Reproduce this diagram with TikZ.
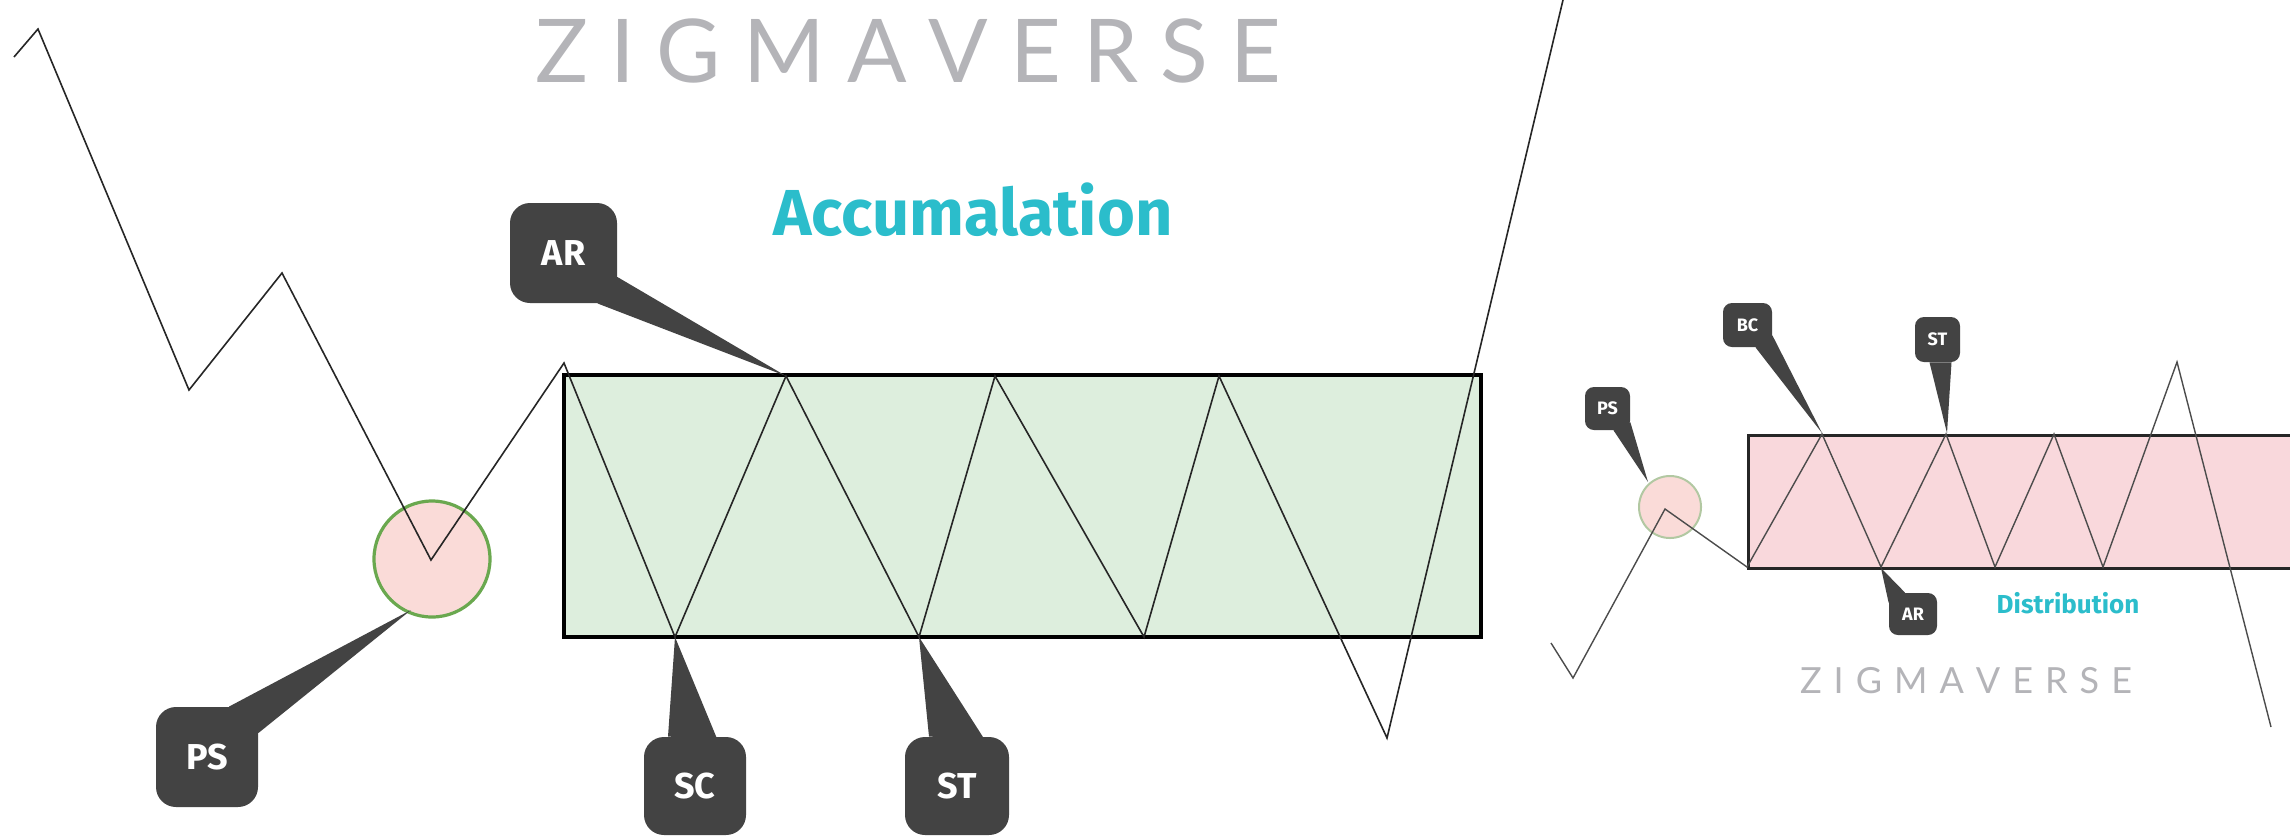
\documentclass[tikz,border=0pt]{standalone}
\usepackage{fontspec}
\setmainfont{Fira Sans}
\newfontfamily\zigfont{Lato}
\definecolor{callgray}{HTML}{434343}
\definecolor{boxgreen}{HTML}{DDEEDD}
\definecolor{boxpink}{HTML}{F9D8DC}
\definecolor{circpink}{HTML}{FADBD8}
\definecolor{circgreen}{HTML}{6AA84F}
\definecolor{circgreenlt}{HTML}{B2C8A2}
\definecolor{teal}{HTML}{2BBDCB}
\definecolor{ziggray}{HTML}{B4B4B8}
\newcommand\zigword[1]{Z\kern#1 I\kern#1 G\kern#1 M\kern#1 A\kern#1 V\kern#1 E\kern#1 R\kern#1 S\kern#1 E}
\tikzset{
  bigcall/.style={fill=callgray, rounded corners=10pt, text=white, inner sep=0pt,
    font=\bfseries\fontsize{18}{20}\selectfont},
  smallcall/.style={fill=callgray, rounded corners=4.5pt, text=white, inner sep=0pt,
    font=\bfseries\fontsize{9}{10}\selectfont},
  pointer/.style={fill=callgray},
  price/.style={draw=black!85, line width=0.8pt, line join=miter},
  pricesmall/.style={draw=black!70, line width=0.7pt},
}
\begin{document}
\begin{tikzpicture}[x=0.5pt,y=-0.5pt]
\clip (0,0) rectangle (2290,837);
\fill[white] (0,0) rectangle (2290,837);

% ---------- Accumulation (left) ----------
\node[draw=black, line width=2pt, fill=boxgreen, minimum width=458.5pt, minimum height=131pt, inner sep=0pt] (accbox) at (1022.5,506) {};
\node[circle, draw=circgreen, line width=1.6pt, fill=circpink, minimum size=58pt, inner sep=0pt] (pscirc) at (432,559) {};

\draw[price] (14,57) -- (38,29) -- (189,390) -- (282,273) -- (431,560) -- (564,363)
  -- (675,637) -- (786,376) -- (919,637) -- (995,376) -- (1144,637) -- (1219,376)
  -- (1387,738) -- (1563,0);

\coordinate (artip) at (786,376);
\coordinate (sctip) at (675,637);
\coordinate (sttip) at (919,637);
\coordinate (pstip) at (411,610);

\node[bigcall, minimum width=53.5pt, minimum height=50pt] (ar) at (563.5,253) {AR};
\node[bigcall, minimum width=51pt, minimum height=50pt] (ps) at (207,757) {PS};
\node[bigcall, minimum width=51pt, minimum height=49pt] (sc) at (695,786) {SC};
\node[bigcall, minimum width=52pt, minimum height=49pt] (st) at (957,786) {ST};

\fill[pointer] ([xshift=-10pt]ar.south east) -- (artip) -- ([yshift=-12pt]ar.east) -- cycle;
\fill[pointer] ([xshift=11pt]ps.north) -- (pstip) -- ([yshift=12pt]ps.east) -- cycle;
\fill[pointer] ([xshift=-13.5pt]sc.north) -- (sctip) -- ([xshift=11pt,yshift=-1pt]sc.north) -- cycle;
\fill[pointer] ([xshift=-14pt]st.north) -- (sttip) -- ([xshift=13.5pt,yshift=-1pt]st.north) -- cycle;

\node[anchor=base, text=teal, font=\bfseries\fontsize{32.5}{36}\selectfont] (acctitle) at (973,235) {Accumalation};
\node[anchor=base, text=ziggray, font=\zigfont\fontsize{44}{48}\selectfont] (zigbig) at (908,82) {\zigword{11pt}};

% ---------- Distribution (right) ----------
\node[draw=black!85, line width=1.25pt, fill=boxpink, minimum width=300pt, minimum height=66.5pt, inner sep=0pt, anchor=north west] (distbox) at (1747,434) {};
\node[circle, draw=circgreenlt, line width=1pt, fill=circpink, minimum size=31pt, inner sep=0pt] (ps2circ) at (1670,507) {};

\draw[pricesmall] (1551,643) -- (1573,678) -- (1665,509) -- (1747,567) -- (1822,434)
  -- (1881,567) -- (1946,434) -- (1995,567) -- (2054,434) -- (2103,567)
  -- (2177,362) -- (2271,727);

\coordinate (ps2tip) at (1648,482);
\coordinate (bctip) at (1822,433);
\coordinate (st2tip) at (1947,433);
\coordinate (ar2tip) at (1881,568);

\node[smallcall, minimum width=22.5pt, minimum height=21.5pt] (ps2) at (1607.5,408.5) {PS};
\node[smallcall, minimum width=24.5pt, minimum height=22pt] (bc) at (1747.5,325) {BC};
\node[smallcall, minimum width=22.5pt, minimum height=22.5pt] (st2) at (1937.5,339.5) {ST};
\node[smallcall, minimum width=24pt, minimum height=21pt] (ar2) at (1913,614) {AR};

\fill[pointer] ([xshift=3pt]ps2.south) -- (ps2tip) -- ([yshift=4pt]ps2.south east) -- cycle;
\fill[pointer] ([xshift=4pt]bc.south) -- (bctip) -- ([yshift=6pt]bc.south east) -- cycle;
\fill[pointer] ([xshift=-4pt]st2.south) -- (st2tip) -- ([xshift=7pt]st2.south) -- cycle;
\fill[pointer] ([yshift=-5pt]ar2.north west) -- (ar2tip) -- ([xshift=-4pt]ar2.north) -- cycle;

\node[anchor=base, text=teal, font=\bfseries\fontsize{13}{15}\selectfont] (disttitle) at (2068,613) {Distribution};
\node[anchor=base, text=ziggray, font=\zigfont\fontsize{18}{20}\selectfont] (zigsmall) at (1966,693) {\zigword{6pt}};
\end{tikzpicture}
\end{document}
